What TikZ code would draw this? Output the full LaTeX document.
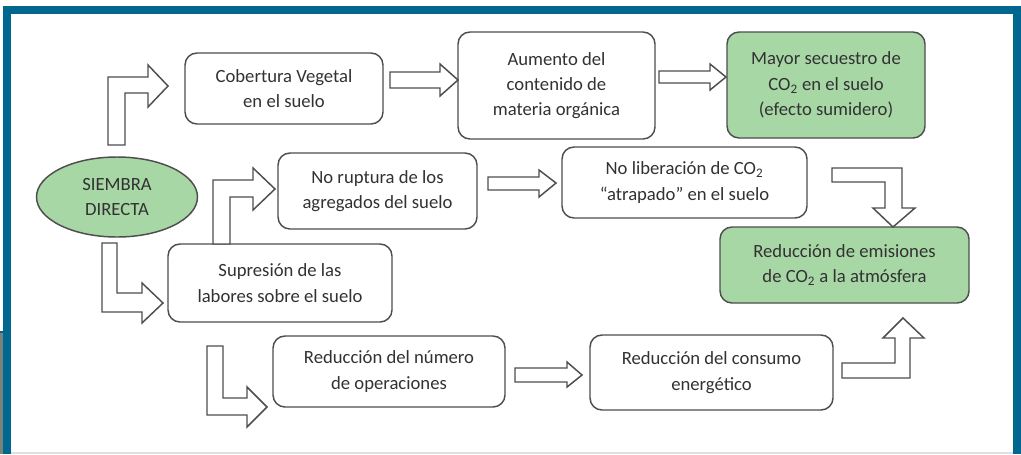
\documentclass[tikz,border=0pt]{standalone}
\usepackage{fontspec}
\setmainfont{Carlito}
\usetikzlibrary{shapes.geometric}
\definecolor{frameblue}{RGB}{0,104,143}
\definecolor{boxgreen}{RGB}{168,215,166}
\definecolor{linegray}{RGB}{78,78,78}
\definecolor{textgray}{RGB}{50,50,50}
\definecolor{photogray}{RGB}{120,130,120}
\newcommand{\pxl}{0.75pt}
\begin{document}
\begin{tikzpicture}[x=0.75pt,y=-0.75pt,
    box/.style={draw=linegray,line width=1.1pt,rounded corners=9pt,align=center,text=textgray,
      font=\fontsize{14}{19}\selectfont,inner sep=0pt},
    greenbox/.style={box,fill=boxgreen},
    blk/.style={draw=linegray,line width=1.1pt,fill=white,line join=miter}]
    \useasboundingbox (0,0) rectangle (1021,454);
    \fill[frameblue] (3,6) rectangle (1021,454);
    \fill[white] (11,14) rectangle (1013,452);
    \fill[black!12] (11,452) rectangle (1013,454);
    \fill[photogray] (0,333) rectangle (3,454);
    \fill[frameblue] (0,331) rectangle (3,333);

    \node[ellipse,draw=linegray,line width=1.1pt,fill=boxgreen,align=center,text=textgray,
      font=\fontsize{14}{19}\selectfont,inner sep=0pt,minimum width=161*\pxl,minimum height=80*\pxl]
      (siembra) at (117,197) {SIEMBRA\\DIRECTA};
    \node[box,minimum width=198*\pxl,minimum height=71*\pxl] (cobertura) at (284,88.5) {Cobertura Vegetal\\en el suelo};
    \node[box,minimum width=197*\pxl,minimum height=107*\pxl] (aumento) at (556.5,85.5) {Aumento del\\contenido de\\materia orgánica};
    \node[greenbox,minimum width=198*\pxl,minimum height=106*\pxl] (secuestro) at (826,85) {Mayor secuestro de\\CO\textsubscript{2} en el suelo\\(efecto sumidero)};
    \node[box,minimum width=199*\pxl,minimum height=76*\pxl] (ruptura) at (377.5,191) {No ruptura de los\\agregados del suelo};
    \node[box,minimum width=245*\pxl,minimum height=71*\pxl] (liberacion) at (684.5,182.5) {No liberación de CO\textsubscript{2}\\“atrapado” en el suelo};
    \node[greenbox,minimum width=249*\pxl,minimum height=76*\pxl] (emisiones) at (844.5,265) {Reducción de emisiones\\de CO\textsubscript{2} a la atmósfera};
    \node[box,minimum width=224*\pxl,minimum height=78*\pxl] (supresion) at (280,283) {Supresión de las\\labores sobre el suelo};
    \node[box,minimum width=232*\pxl,minimum height=71*\pxl] (operaciones) at (389,371.5) {Reducción del número\\de operaciones};
    \node[box,minimum width=243*\pxl,minimum height=75*\pxl] (consumo) at (711.5,372.5) {Reducción del consumo\\energético};

    \draw[blk] (108,145) -- (108,77) -- (148,77) -- (148,65) -- (168,86) -- (148,107) -- (148,93) -- (125,93) -- (125,145) -- cycle;
    \draw[blk] (390,72) -- (440,72) -- (440,64) -- (458,80) -- (440,96) -- (440,88) -- (390,88) -- cycle;
    \draw[blk] (659,71) -- (710,71) -- (710,64) -- (726,77) -- (710,90) -- (710,83) -- (659,83) -- cycle;
    \draw[blk] (213,244) -- (213,180) -- (253,180) -- (253,168) -- (275,189) -- (253,210) -- (253,197) -- (230,197) -- (230,244) -- cycle;
    \draw[blk] (488,177) -- (539,177) -- (539,170) -- (556,183) -- (539,197) -- (539,190) -- (488,190) -- cycle;
    \draw[blk] (832,168) -- (902,168) -- (902,208) -- (915,208) -- (893,227) -- (873,208) -- (885,208) -- (885,182) -- (832,182) -- cycle;
    \draw[blk] (102,243) -- (117,243) -- (117,293) -- (142,293) -- (142,283) -- (163,303) -- (142,323) -- (142,312) -- (102,312) -- cycle;
    \draw[blk] (207,346) -- (223,346) -- (223,398) -- (247,398) -- (247,387) -- (267,407) -- (247,427) -- (247,415) -- (207,415) -- cycle;
    \draw[blk] (515,368) -- (567,368) -- (567,362) -- (582,375) -- (567,387) -- (567,382) -- (515,382) -- cycle;
    \draw[blk] (842,378) -- (910,378) -- (910,338) -- (924,338) -- (903,318) -- (883,338) -- (895,338) -- (895,363) -- (842,363) -- cycle;
\end{tikzpicture}
\end{document}
